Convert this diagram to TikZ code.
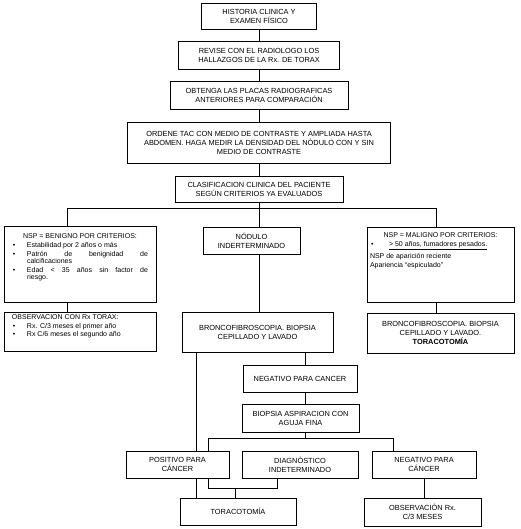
\documentclass[tikz,border=0pt]{standalone}
\usepackage{fontspec}
\setmainfont{Liberation Sans}
\newlength{\bulw}
\setlength{\bulw}{15pt}
\newcommand{\bul}[1]{\par\hangindent=\bulw\hangafter=1\noindent\makebox[\bulw][l]{\hspace{1pt}\textbullet}#1}

\begin{document}
\begin{tikzpicture}[x=1pt, y=-1pt,
    box/.style={draw, line width=0.8pt, align=center, inner sep=2pt, font=\fontsize{7.4}{9}\selectfont},
    lista/.style={draw, line width=0.8pt, inner xsep=8pt, inner ysep=3pt, font=\fontsize{7}{7}\selectfont},
    link/.style={line width=0.7pt}]
    \useasboundingbox (0,0) rectangle (520,529);

    % Main column
    \node[box, minimum width=115pt, minimum height=26pt] (historia) at (259,16) {HISTORIA CLINICA Y\\EXAMEN FÍSICO};
    \node[box, minimum width=161pt, minimum height=28pt] (revise) at (259,55) {REVISE CON EL RADIOLOGO LOS\\HALLAZGOS DE LA Rx. DE TORAX};
    \node[box, minimum width=178pt, minimum height=28pt] (placas) at (259,95) {OBTENGA LAS PLACAS RADIOGRAFICAS\\ANTERIORES PARA COMPARACIÓN};
    \node[box, minimum width=263pt, minimum height=41pt] (tac) at (259,142.5) {ORDENE TAC CON MEDIO DE CONTRASTE Y AMPLIADA HASTA\\ABDOMEN. HAGA MEDIR LA DENSIDAD DEL NÓDULO CON Y SIN\\MEDIO DE CONTRASTE};
    \node[box, minimum width=168pt, minimum height=26pt] (clasif) at (259,189) {CLASIFICACION CLINICA DEL PACIENTE\\SEGÚN CRITERIOS YA EVALUADOS};

    % Benign branch
    \node[lista] (benigno) at (80,264) {\parbox[c][70pt][t]{136pt}{\setlength{\parskip}{2pt}\vspace*{3pt}{\centering NSP = BENIGNO POR CRITERIOS:\par}
        \bul{Estabilidad por 2 años o más}
        \bul{Patrón de benignidad de\linebreak calcificaciones}
        \bul{Edad < 35 años sin factor de\linebreak riesgo.}}};
    \node[lista] (controlRx) at (80,331.5) {\parbox[c][33pt][t]{136pt}{\setlength{\parskip}{1.4pt}\noindent OBSERVACION CON Rx TORAX:
        \bul{Rx. C/3 meses el primer año}
        \bul{Rx C/6 meses el segundo año}}};

    % Indeterminate branch
    \node[box, minimum width=97pt, minimum height=27pt] (nodulo) at (251.5,240.5) {NÓDULO\\INDERTERMINADO};
    \node[box, minimum width=151pt, minimum height=40pt] (broncoM) at (257.5,332) {BRONCOFIBROSCOPIA. BIOPSIA\\CEPILLADO Y LAVADO};
    \node[box, minimum width=114pt, minimum height=27pt] (negativoM) at (300,378.5) {NEGATIVO PARA CANCER};
    \node[box, minimum width=117pt, minimum height=28pt] (biopsia) at (300.5,418) {BIOPSIA ASPIRACION CON\\AGUJA FINA};
    \node[box, minimum width=103pt, minimum height=27pt] (positivo) at (177.5,464.5) {POSITIVO PARA\\CÁNCER};
    \node[box, minimum width=116pt, minimum height=27pt] (diag) at (300,464.5) {DIAGNÓSTICO\\INDETERMINADO};
    \node[box, minimum width=104pt, minimum height=27pt] (negativoR) at (424,464.5) {NEGATIVO PARA\\CÁNCER};
    \node[box, minimum width=116pt, minimum height=27pt] (toraco) at (238,511.5) {TORACOTOMÍA};
    \node[box, minimum width=117pt, minimum height=28pt] (obsMeses) at (422.5,512) {OBSERVACIÓN Rx.\\C/3 MESES};

    % Malignant branch
    \node[lista, inner xsep=3pt] (maligno) at (440.5,264.5) {\parbox[c][69pt][t]{141pt}{\setlength{\bulw}{19pt}\setlength{\parskip}{1.6pt}\vspace*{1.5pt}{\centering NSP = MALIGNO POR CRITERIOS:\par}
        \bul{\underline{> 50 años, fumadores pesados.}}\par\vspace{1pt}
        \noindent NSP de aparición reciente\par
        \noindent Apariencia ``espiculado''}};
    \node[box, minimum width=147pt, minimum height=40pt] (broncoR) at (440.5,333) {BRONCOFIBROSCOPIA. BIOPSIA\\CEPILLADO Y LAVADO.\\\textbf{TORACOTOMÍA}};

    % Junctions
    \coordinate (forkL) at (67,208);
    \coordinate (forkR) at (436,208);
    \coordinate (bajada) at (305,438);
    \coordinate (barL) at (208,438);
    \coordinate (barR) at (393,438);
    \coordinate (izq) at (196,352);
    \coordinate (unionL) at (208,488);
    \coordinate (unionR) at (277,488);
    \coordinate (union) at (235,488);

    % Main column links
    \draw[link] (historia) -- (revise);
    \draw[link] (revise) -- (placas);
    \draw[link] (placas) -- (tac);
    \draw[link] (tac) -- (clasif);
    \draw[link] (clasif) -- (clasif |- nodulo.north);
    \draw[link] (forkL) -- (forkR);
    \draw[link] (forkL) -- (forkL |- benigno.north);
    \draw[link] (forkR) -- (forkR |- maligno.north);
    \draw[link] (forkL |- benigno.south) -- (forkL |- controlRx.north);
    \draw[link] (forkR |- maligno.south) -- (forkR |- broncoR.north);
    \draw[link] (clasif |- nodulo.south) -- (clasif |- broncoM.north);

    % Lower links
    \draw[link] (bajada |- broncoM.south) -- (bajada |- negativoM.north);
    \draw[link] (bajada |- negativoM.south) -- (bajada |- biopsia.north);
    \draw[link] (bajada |- biopsia.south) -- (bajada);
    \draw[link] (barL |- positivo.north) -- (barL) -- (barR) -- (barR |- negativoR.north);
    \draw[link] (izq) -- (izq |- positivo.north);
    \draw[link] (izq |- positivo.south) -- (izq |- toraco.north);
    \draw[link] (unionL |- positivo.south) -- (unionL) -- (unionR) -- (unionR |- diag.south);
    \draw[link] (union) -- (union |- toraco.north);
    \draw[link] (negativoR) -- (negativoR |- obsMeses.north);
\end{tikzpicture}
\end{document}
